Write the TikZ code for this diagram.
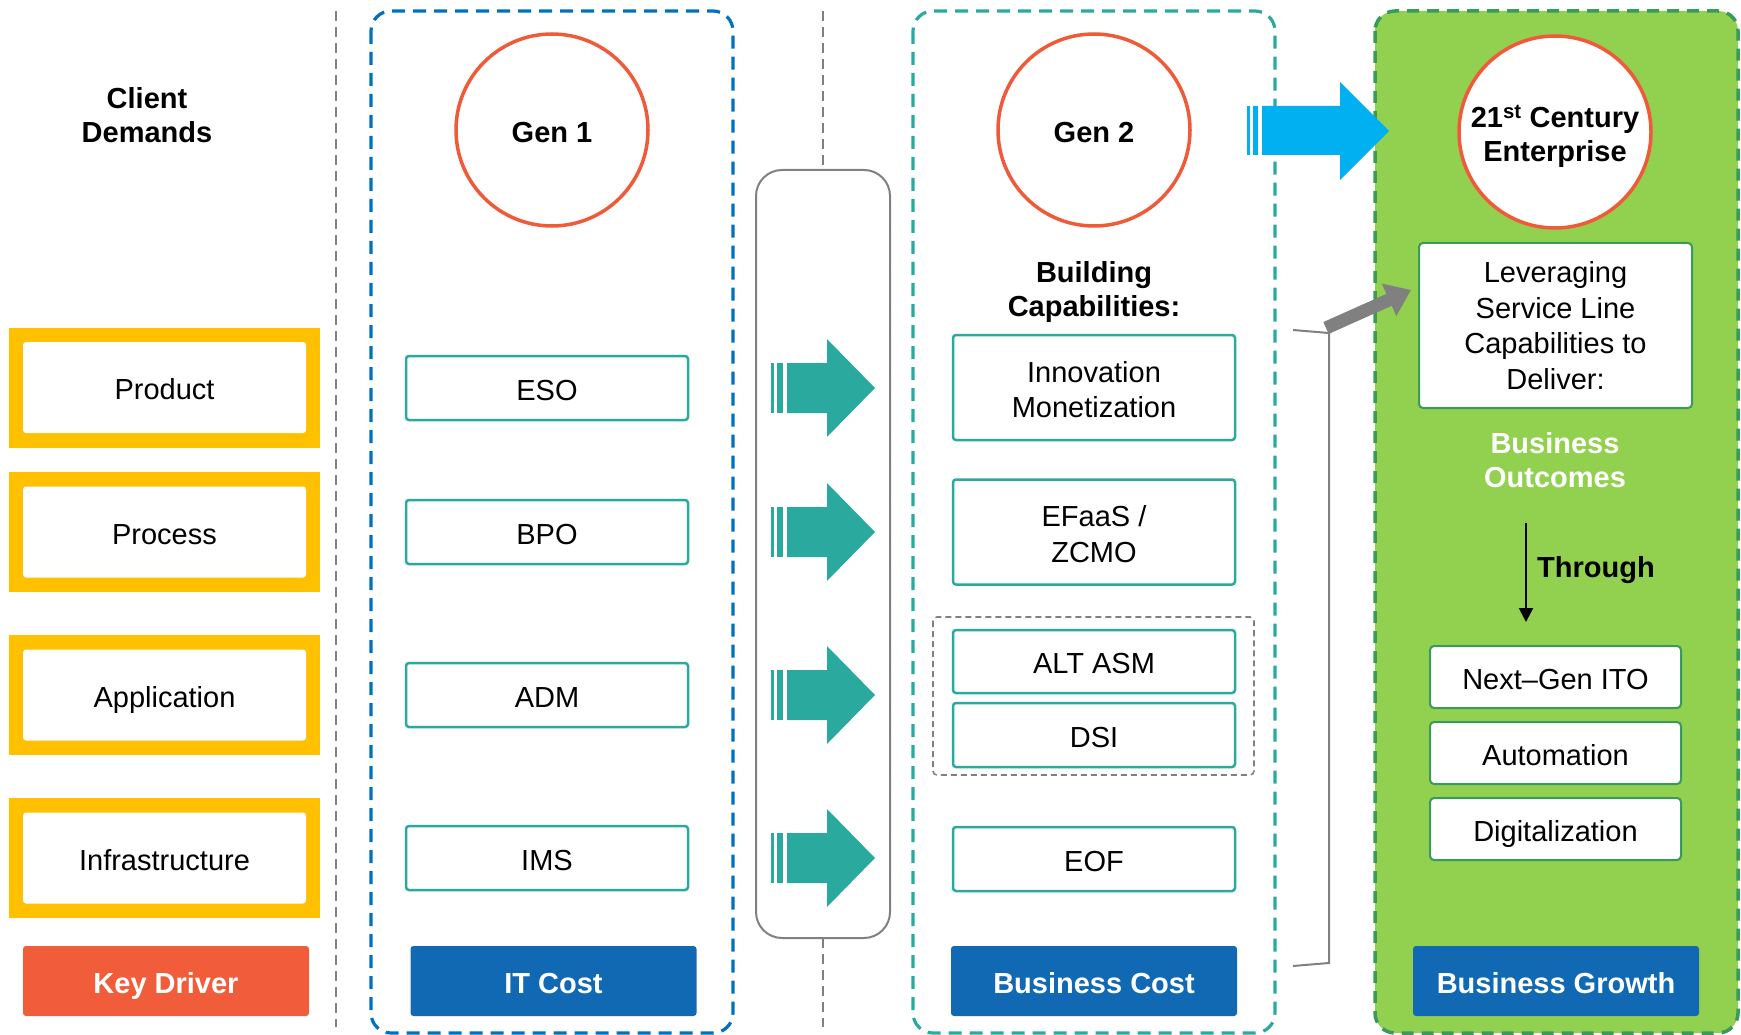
\documentclass[tikz,border=0pt]{standalone}
\usepackage{fontspec}
\setmainfont{Liberation Sans}
\usetikzlibrary{arrows.meta}
\definecolor{kred}{HTML}{F15D3B}
\definecolor{ring}{HTML}{F05A38}
\definecolor{kyellow}{HTML}{FFC000}
\definecolor{kblue}{HTML}{1169B4}
\definecolor{dblue}{HTML}{0070C0}
\definecolor{kteal}{HTML}{2AAA9E}
\definecolor{kgreen}{HTML}{92D050}
\definecolor{dgreen}{HTML}{3A9A5C}
\definecolor{sky}{HTML}{00B0F0}
\definecolor{kgray}{HTML}{808080}
\begin{document}
\begin{tikzpicture}[x=1pt,y=-1pt,
  every node/.style={font=\fontsize{29}{35.5}\selectfont, align=center, inner sep=0pt},
  single/.style={text height=26pt, text depth=1.5pt},
  boldtxt/.style={font=\fontsize{29}{34}\selectfont\bfseries},
  colbox/.style={line width=3.2pt, dash pattern=on 13pt off 8pt, rounded corners=20pt},
  graydash/.style={draw=kgray, line width=2pt, dash pattern=on 10pt off 6pt},
  ringnode/.style={circle, draw=ring, line width=3.5pt, fill=white, minimum size=192pt, boldtxt},
  tealbox/.style={draw=kteal, line width=2.5pt, rounded corners=3pt, fill=white, minimum width=282pt},
  greenbox/.style={draw=dgreen, line width=2pt, rounded corners=4pt, fill=white, single},
  footer/.style={rounded corners=3pt, minimum width=286pt, minimum height=70pt, text=white, boldtxt, single},
  ybox/.style={fill=white, rounded corners=3pt, minimum width=283pt, minimum height=91pt, single},
  tarrow/.style={fill=kteal},
]
\useasboundingbox (0,0) rectangle (1741,1035);

% column frames
\draw[graydash] (336,11) -- (336,1027);
\draw[colbox, draw=dblue] (371,11) rectangle (733,1033);
\draw[colbox, draw=kteal] (913,11) rectangle (1275,1033);
\draw[colbox, draw=dgreen, fill=kgreen, line width=3.5pt, dash pattern=on 12pt off 8pt] (1375,11) rectangle (1738,1033);

% middle container
\draw[graydash] (823,11) -- (823,170);
\draw[graydash] (823,938) -- (823,1027);
\node[draw=kgray, line width=2pt, rounded corners=26pt, minimum width=134pt, minimum height=768pt] (mid) at (823,554) {};

% left column
\node[boldtxt] (client) at (147,115) {Client\\Demands};
\foreach \yc/\nm/\txt in {387.5/prod/Product, 532/proc/Process, 695/appl/Application, 858/infra/Infrastructure}{
  \fill[kyellow] (9,\yc-60) rectangle (320,\yc+60);
  \node[ybox] (\nm) at (164.5,\yc) {\txt};
}
\node[footer, fill=kred] (kd) at (166,981) {Key Driver};

% Gen 1 column
\node[ringnode, single] (gen1) at (552,130) {Gen 1};
\node[tealbox, single, minimum height=64pt] (eso) at (547,388) {ESO};
\node[tealbox, single, minimum height=64pt] (bpo) at (547,532) {BPO};
\node[tealbox, single, minimum height=64pt] (adm) at (547,695) {ADM};
\node[tealbox, single, minimum height=64pt] (ims) at (547,858) {IMS};
\node[footer, fill=kblue] (itc) at (553.5,981) {IT Cost};

% teal arrows
\foreach \yc in {388,532,695,858}{
  \fill[tarrow] (771,\yc-25) rectangle (773.5,\yc+25);
  \fill[tarrow] (777,\yc-25) rectangle (783,\yc+25);
  \fill[tarrow] (787,\yc-25) -- (827,\yc-25) -- (827,\yc-49) -- (875,\yc) -- (827,\yc+49) -- (827,\yc+25) -- (787,\yc+25) -- cycle;
}

% Gen 2 column
\node[ringnode, single] (gen2) at (1094,130) {Gen 2};
\node[boldtxt] (build) at (1094,292) {Building\\Capabilities:};
\node[tealbox, minimum height=105pt] (innov) at (1094,387.5) {\strut Innovation\\Monetization};
\node[tealbox, minimum height=105pt] (efaas) at (1094,532) {\strut EFaaS /\\ZCMO};
\draw[draw=kgray, line width=1.6pt, dash pattern=on 6pt off 4pt, rounded corners=4pt] (933,617) rectangle (1254,775);
\node[tealbox, single, minimum height=63pt] (alt) at (1094,661.5) {ALT ASM};
\node[tealbox, single, minimum height=64pt] (dsi) at (1094,735) {DSI};
\node[tealbox, single, minimum height=64pt] (eof) at (1094,859) {EOF};
\node[footer, fill=kblue] (bc) at (1094,981) {Business Cost};

% blue arrow
\fill[sky] (1247,106) rectangle (1250,155);
\fill[sky] (1253,106) rectangle (1258,155);
\fill[sky] (1262,106) -- (1340,106) -- (1340,82) -- (1389,131) -- (1340,180) -- (1340,155) -- (1262,155) -- cycle;

% bracket and gray arrow
\coordinate (bt) at (1293,330);
\coordinate (btc) at (1329,333);
\coordinate (bbc) at (1329,963);
\coordinate (bb) at (1293,966);
\draw[kgray, line width=2pt] (bt) -- (btc) -- (bbc) -- (bb);

% Growth column
\node[ringnode] (gen3) at (1555,132) {};
\node[boldtxt] (gen3t) at (1555,136) {21\textsuperscript{st} Century\\Enterprise};
\node[greenbox, text height=, text depth=, minimum width=273pt, minimum height=165pt] (lev) at (1555.5,325.5) {Leveraging\\Service Line\\Capabilities to\\Deliver:};
\coordinate (gs) at (1326,328);
\coordinate (ge) at (1411,290);
\draw[kgray, line width=13pt, -{Triangle[length=24pt,width=34pt]}] (gs) -- (ge);
\node[boldtxt, text=white] (bo) at (1555,460.5) {Business\\Outcomes};
\coordinate (ts) at (1526,523);
\coordinate (te) at (1526,622);
\draw[black, line width=2pt, -{Triangle[length=14pt,width=14pt]}] (ts) -- (te);
\node[boldtxt, single, anchor=west] (thr) at (1537,565) {Through};
\node[greenbox, minimum width=251pt, minimum height=62pt] (ngi) at (1555.5,677) {Next–Gen ITO};
\node[greenbox, minimum width=251pt, minimum height=62pt] (aut) at (1555.5,753) {Automation};
\node[greenbox, minimum width=251pt, minimum height=62pt] (dig) at (1555.5,829) {Digitalization};
\node[footer, fill=kblue] (bg) at (1556,981) {Business Growth};
\end{tikzpicture}
\end{document}
